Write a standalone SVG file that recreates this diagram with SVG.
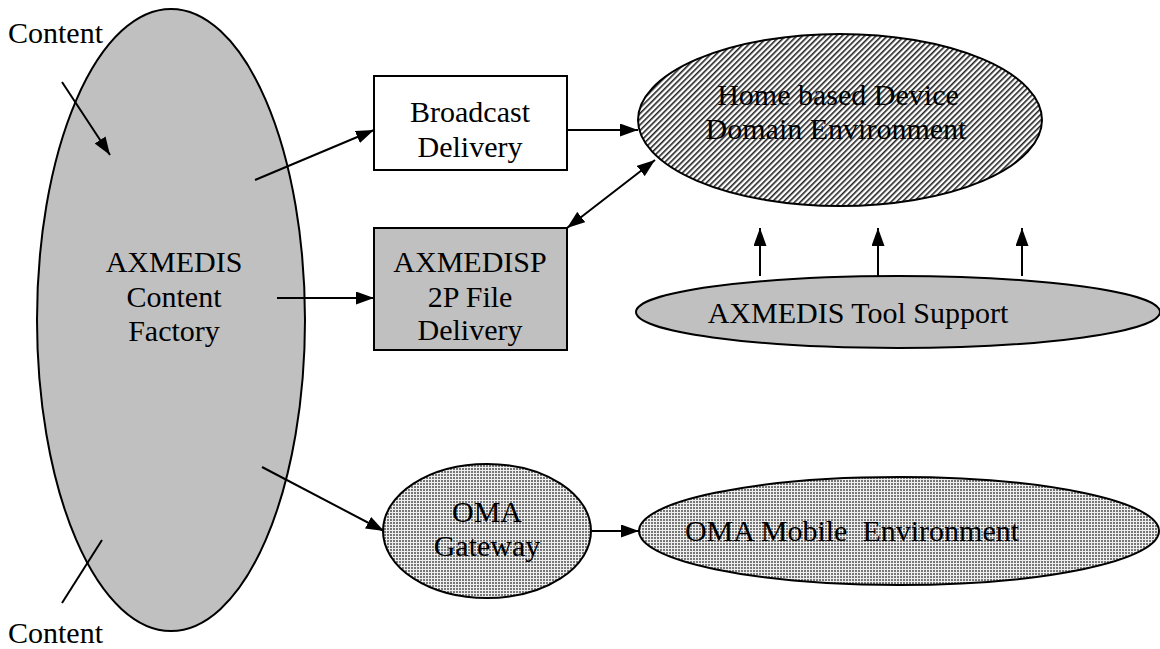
<svg xmlns="http://www.w3.org/2000/svg" width="1160" height="649" viewBox="0 0 1160 649">
<style>
text{font-family:"Liberation Serif","Times New Roman",serif;font-size:30px;fill:#000}
.c{text-anchor:middle}
.o{stroke:#000;stroke-width:2}
.l{stroke:#000;stroke-width:2;fill:none}
.a{marker-end:url(#ah)}
</style>
<defs>
<marker id="ah" viewBox="0 0 18 13" refX="18" refY="6.5" markerWidth="18" markerHeight="13" markerUnits="userSpaceOnUse" orient="auto-start-reverse">
<path d="M0,0 L18,6.5 L0,13 Z" fill="#000"/>
</marker>
<pattern id="hatch" width="4" height="4" patternUnits="userSpaceOnUse" patternTransform="rotate(45)">
<rect width="4" height="4" fill="#fff"/>
<rect width="1.6" height="4" fill="#222"/>
</pattern>
<pattern id="dots" width="3" height="3" patternUnits="userSpaceOnUse">
<rect width="3" height="3" fill="#eee"/>
<rect width="2" height="2" fill="#777"/>
</pattern>
</defs>

<g id="factory">
<ellipse class="o" cx="171" cy="320" rx="134" ry="311" fill="#c0c0c0"/>
<text class="c" x="174" y="272">AXMEDIS</text>
<text class="c" x="174" y="307">Content</text>
<text class="c" x="174" y="341">Factory</text>
</g>

<g id="content-top"><text x="8" y="43">Content</text></g>
<g id="content-bottom"><text x="8" y="643">Content</text></g>

<g id="broadcast">
<rect class="o" x="374" y="76" width="193" height="94" fill="#fff"/>
<text class="c" x="470" y="122">Broadcast</text>
<text class="c" x="470" y="157">Delivery</text>
</g>

<g id="p2p">
<rect class="o" x="374" y="228" width="193" height="122" fill="#c0c0c0"/>
<text class="c" x="470" y="272">AXMEDISP</text>
<text class="c" x="470" y="307">2P File</text>
<text class="c" x="470" y="340">Delivery</text>
</g>

<g id="home">
<ellipse class="o" cx="840" cy="120" rx="202" ry="86" fill="url(#hatch)"/>
<text class="c" x="838" y="105">Home based Device</text>
<text class="c" x="836" y="139">Domain Environment</text>
</g>

<g id="tools">
<ellipse class="o" cx="898" cy="312" rx="262" ry="36" fill="#c0c0c0"/>
<text class="c" x="858" y="323">AXMEDIS Tool Support</text>
</g>

<g id="gateway">
<ellipse class="o" cx="487" cy="531" rx="104" ry="67" fill="url(#dots)"/>
<text class="c" x="487" y="522">OMA</text>
<text class="c" x="487" y="556">Gateway</text>
</g>

<g id="mobile">
<ellipse class="o" cx="899" cy="531" rx="260" ry="54" fill="url(#dots)"/>
<text class="c" x="852" y="541" xml:space="preserve">OMA Mobile  Environment</text>
</g>

<g id="connectors">
<line class="l a" x1="62" y1="82" x2="110" y2="155"/>
<line class="l" x1="62" y1="603" x2="102" y2="540"/>
<line class="l a" x1="255" y1="180" x2="374" y2="130"/>
<line class="l a" x1="567" y1="130" x2="638" y2="130"/>
<line class="l a" x1="567" y1="228" x2="655" y2="160" style="marker-start:url(#ah)"/>
<line class="l a" x1="277" y1="298" x2="374" y2="298"/>
<line class="l a" x1="760" y1="276" x2="760" y2="228"/>
<line class="l a" x1="878" y1="276" x2="878" y2="228"/>
<line class="l a" x1="1022" y1="276" x2="1022" y2="228"/>
<line class="l a" x1="262" y1="467" x2="384" y2="531"/>
<line class="l a" x1="592" y1="531" x2="639" y2="531"/>
</g>
</svg>
